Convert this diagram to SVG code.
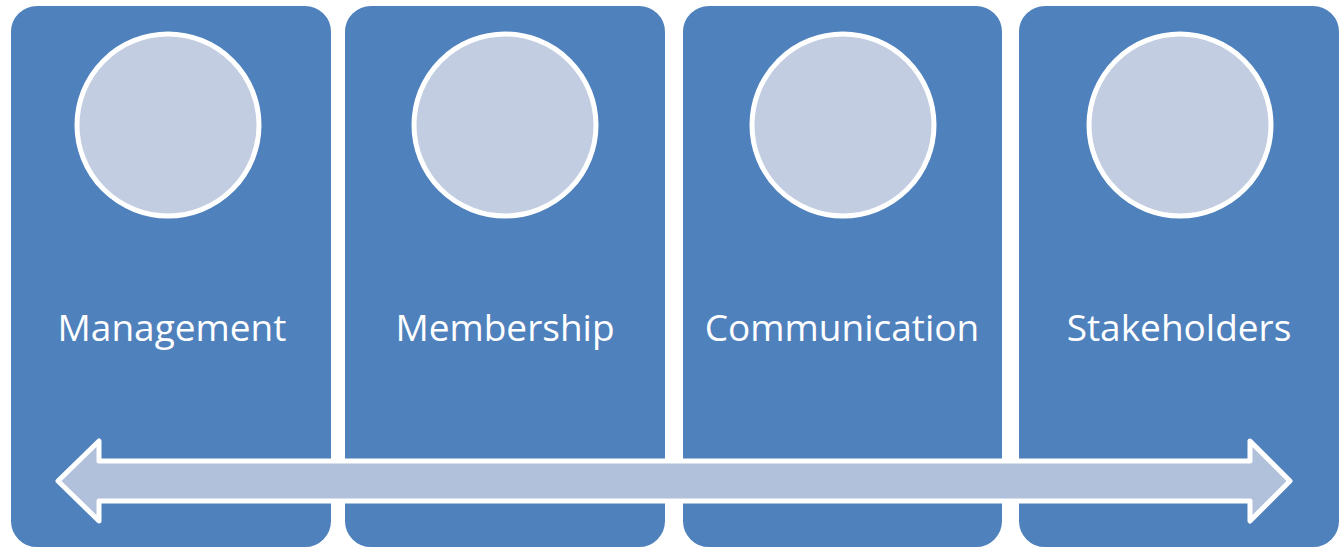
<svg xmlns="http://www.w3.org/2000/svg" width="1339" height="548" viewBox="0 0 1339 548">
<style>
.box{fill:#4F81BD;stroke:#FFFFFF;stroke-width:2}
.circ{fill:#C2CDE2;stroke:#FFFFFF;stroke-width:5}
.lbl{fill:#FFFFFF;font-family:"Open Sans","Liberation Sans",sans-serif;font-size:37px;text-anchor:middle}
.arrow{fill:#B1C1DC;stroke:#FFFFFF;stroke-width:5;stroke-linejoin:round}
</style>
<rect width="1339" height="548" fill="#FFFFFF"/>
<g id="node-management">
<rect class="box" x="10" y="5" width="322" height="543" rx="27"/>
<circle class="circ" cx="168" cy="125" r="91"/>
<text class="lbl" x="172" y="341">Management</text>
</g>
<g id="node-membership">
<rect class="box" x="344" y="5" width="322" height="543" rx="27"/>
<circle class="circ" cx="505" cy="125" r="91"/>
<text class="lbl" x="505" y="341">Membership</text>
</g>
<g id="node-communication">
<rect class="box" x="682" y="5" width="321" height="543" rx="27"/>
<circle class="circ" cx="843" cy="125" r="91"/>
<text class="lbl" x="842" y="341">Communication</text>
</g>
<g id="node-stakeholders">
<rect class="box" x="1018" y="5" width="322" height="543" rx="27"/>
<circle class="circ" cx="1180" cy="125" r="91"/>
<text class="lbl" x="1179" y="341">Stakeholders</text>
</g>
<g id="connectors">
<path class="arrow" d="M58,481 L99,441 L99,461 L1250,461 L1250,441 L1290,481 L1250,521 L1250,501 L99,501 L99,521 Z"/>
</g>
</svg>
